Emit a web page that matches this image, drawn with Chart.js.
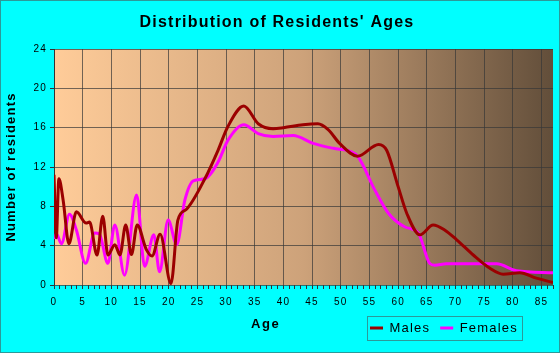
<!DOCTYPE html>
<html>
<head>
<meta charset="utf-8">
<script src="https://cdn.jsdelivr.net/npm/chart.js@4.4.1/dist/chart.umd.min.js"></script>
<style>
  html, body { margin: 0; padding: 0; background: #00ffff; }
  canvas { display: block; }
</style>
</head>
<body>
<canvas id="c" width="560" height="353"></canvas>
<script>
// ---- text ----
const chartTitle = "Distribution of Residents' Ages";
const xAxisTitle = "Age";
const yAxisTitle = "Number of residents";
const seriesNames = ["Males", "Females"];

// ---- ticks ----
const xTickLabels = [0, 5, 10, 15, 20, 25, 30, 35, 40, 45, 50, 55, 60, 65, 70, 75, 80, 85];
const yTickLabels = [0, 4, 8, 12, 16, 20, 24];

// ---- data (age, number of residents) ----
const maleAges = [0, 0.4, 0.85, 1.6, 2.6, 3.9, 5.6, 6.2, 7.5, 8.5, 9.4, 10.6, 11.5, 12.5, 13.5, 14.5, 16.1, 17.1, 18.5, 20.4, 21.6, 23.1, 26.3, 28.6, 30.3, 33.1, 35.6, 38.2, 40, 43.4, 46, 47.8, 49.8, 52.9, 56.6, 58, 60, 61.5, 63.8, 66.1, 68.1, 70.2, 73.1, 76, 78.3, 81.2, 84.1, 87];
const maleCounts = [11.2, 4.8, 10.8, 8.6, 4.2, 7.45, 6.3, 6.4, 3.05, 7.0, 3.05, 4.1, 3.05, 6.1, 3.1, 6.1, 3.6, 2.95, 5.15, 0.15, 6.6, 7.7, 10.8, 13.7, 16.1, 18.2, 16.4, 15.9, 16.0, 16.3, 16.4, 15.8, 14.4, 13.1, 14.3, 13.7, 10.0, 7.3, 5.1, 6.1, 5.6, 4.6, 3.05, 1.7, 1.1, 1.25, 0.7, 0.25];

const femaleAges = [0, 0.4, 1.3, 2.7, 3.9, 5.5, 7.1, 7.9, 9.4, 10.6, 12.3, 14.4, 15.8, 17.4, 18.4, 19.9, 21.4, 22.8, 24.3, 26.3, 28.6, 30.3, 33.1, 35.6, 38.2, 41.7, 45.2, 48.7, 51.6, 53, 55.9, 58.3, 61.2, 63.5, 65.5, 66.4, 68.4, 77.2, 80.6, 87];
const femaleCounts = [4.7, 5.2, 4.2, 7.2, 5.6, 2.2, 5.3, 5.2, 2.2, 6.1, 1.0, 9.15, 1.9, 5.1, 1.35, 6.6, 4.1, 8.6, 10.6, 10.8, 12.5, 14.7, 16.3, 15.4, 15.1, 15.2, 14.4, 13.9, 13.6, 13.05, 9.7, 7.3, 5.9, 5.3, 2.2, 2.0, 2.15, 2.15, 1.45, 1.25];

const toPoints = (xs, ys) => xs.map((x, i) => ({ x: x, y: ys[i] }));

Chart.defaults.font.family = "'Liberation Sans', Arial, sans-serif";
Chart.defaults.color = '#000';

const gridColor = 'rgba(55,55,55,0.7)';
const axisColor = '#333';

const spacingPlugin = {
  id: 'spacing',
  beforeLayout(chart) { chart.ctx.letterSpacing = '1.2px'; },
  beforeDraw(chart) { chart.ctx.letterSpacing = '1.2px'; }
};

const backgroundPlugin = {
  id: 'bg',
  beforeDraw(chart) {
    const ctx = chart.ctx;
    const { left, top, right, bottom } = chart.chartArea;
    ctx.save();
    ctx.fillStyle = '#00ffff';
    ctx.fillRect(0, 0, chart.width, chart.height);
    ctx.strokeStyle = '#2b9a9a';
    ctx.lineWidth = 1;
    ctx.strokeRect(0.5, 0.5, chart.width - 1, chart.height - 1);
    const g = ctx.createLinearGradient(left, 0, right, 0);
    g.addColorStop(0, '#ffcc99');
    g.addColorStop(0.5, '#cda27a');
    g.addColorStop(1, '#624e3a');
    ctx.fillStyle = g;
    ctx.fillRect(left, top, right - left, bottom - top);
    ctx.restore();
  }
};

const legendPlacePlugin = {
  id: 'legendPlace',
  afterLayout(chart) {
    const lg = chart.legend;
    if (!lg) return;
    const w = lg.width, h = lg.height;
    lg.left = 360; lg.right = 360 + w;
    lg.top = 311.5; lg.bottom = 311.5 + h;
  },
  afterDraw(chart) {
    const ctx = chart.ctx;
    const lg = chart.legend;
    const hb = lg && lg.legendHitBoxes;
    if (hb && hb.length) {
      const first = hb[0], last = hb[hb.length - 1];
      const x0 = Math.round(first.left) - 2.5;
      const x1 = Math.round(last.left + last.width) + 4.5;
      const y0 = Math.round(first.top) - 5.5;
      const y1 = Math.round(first.top + first.height) + 5.5;
      ctx.save();
      ctx.strokeStyle = '#2b9a9a';
      ctx.lineWidth = 1;
      ctx.strokeRect(x0, y0, x1 - x0, y1 - y0);
      ctx.restore();
    }
    // x axis title
    const { left, right } = chart.chartArea;
    ctx.save();
    ctx.letterSpacing = '1.5px';
    ctx.font = "bold 13px 'Liberation Sans', Arial, sans-serif";
    ctx.fillStyle = '#000';
    ctx.textAlign = 'center';
    ctx.textBaseline = 'middle';
    ctx.fillText(xAxisTitle, left + (right - left) * 0.424, 324);
    ctx.restore();
  }
};

new Chart(document.getElementById('c'), {
  type: 'line',
  data: {
    datasets: [
      {
        label: seriesNames[0],
        data: toPoints(maleAges, maleCounts),
        borderColor: '#9b0000',
        backgroundColor: '#9b0000',
        borderWidth: 3,
        pointRadius: 0,
        pointStyle: 'line',
        cubicInterpolationMode: 'monotone',
        fill: false
      },
      {
        label: seriesNames[1],
        data: toPoints(femaleAges, femaleCounts),
        borderColor: '#ff00ff',
        backgroundColor: '#ff00ff',
        borderWidth: 3,
        pointRadius: 0,
        pointStyle: 'line',
        cubicInterpolationMode: 'monotone',
        fill: false
      }
    ]
  },
  options: {
    responsive: false,
    animation: false,
    devicePixelRatio: 1,
    layout: { padding: { left: 0, right: 6, top: 0, bottom: 0 } },
    plugins: {
      title: {
        display: true,
        text: chartTitle,
        color: '#000',
        font: { size: 16, weight: 'bold' },
        padding: { top: 13, bottom: 16.8 }
      },
      legend: {
        display: true,
        position: 'bottom',
        align: 'start',
        labels: {
          usePointStyle: true,
          pointStyleWidth: 13,
          color: '#000',
          font: { size: 13 },
          padding: 10
        }
      },
      tooltip: { enabled: false }
    },
    scales: {
      x: {
        type: 'linear',
        min: 0,
        max: 87,
        ticks: {
          stepSize: 1,
          maxTicksLimit: 200,
          autoSkip: false,
          maxRotation: 0,
          minRotation: 0,
          padding: 7,
          color: '#000',
          font: { size: 10 },
          callback: (v) => xTickLabels.includes(v) ? String(v) : ''
        },
        grid: {
          color: (c) => (c.tick && xTickLabels.includes(c.tick.value)) ? gridColor : 'rgba(0,0,0,0)',
          tickColor: axisColor,
          tickLength: 4,
          lineWidth: 1
        },
        border: { display: false },
        afterFit: (s) => { s.height = 35; }
      },
      y: {
        min: 0,
        max: 24,
        ticks: {
          stepSize: 4,
          padding: 3,
          color: '#000',
          font: { size: 10 },
          callback: (v) => yTickLabels.includes(v) ? String(v) : ''
        },
        grid: {
          color: gridColor,
          tickColor: axisColor,
          tickLength: 4,
          lineWidth: 1
        },
        border: { display: true, color: axisColor },
        title: {
          display: true,
          text: yAxisTitle,
          color: '#000',
          font: { size: 13, weight: 'bold' },
          padding: { top: 4, bottom: 0 }
        },
        afterFit: (s) => { s.width = 54; }
      }
    }
  },
  plugins: [spacingPlugin, backgroundPlugin, legendPlacePlugin]
});
</script>
</body>
</html>
